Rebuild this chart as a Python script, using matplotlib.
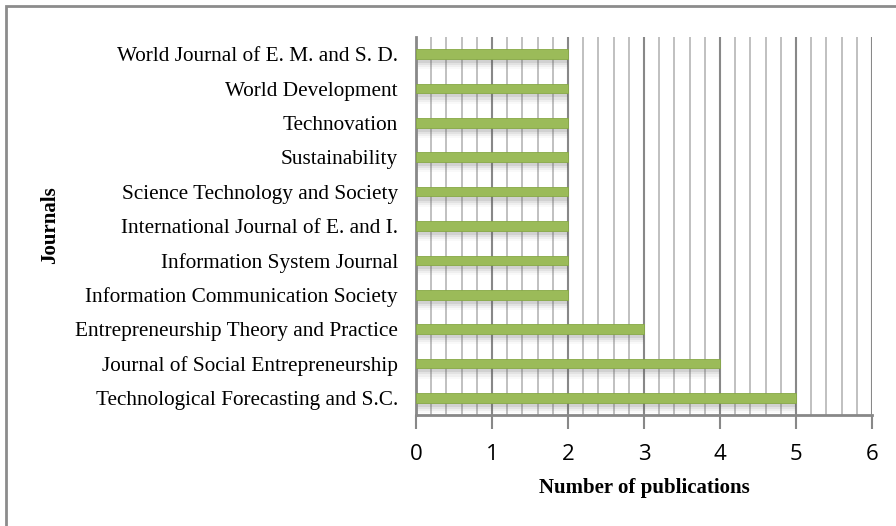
import matplotlib
matplotlib.use("Agg")
import matplotlib.pyplot as plt
import numpy as np
from matplotlib.patches import Rectangle

journals = [
    "Technological Forecasting and S.C.",
    "Journal of Social Entrepreneurship",
    "Entrepreneurship Theory and Practice",
    "Information Communication Society",
    "Information System Journal",
    "International Journal of E. and I.",
    "Science Technology and Society",
    "Sustainability",
    "Technovation",
    "World Development",
    "World Journal of E. M. and S. D.",
]
publications = [5, 4, 3, 2, 2, 2, 2, 2, 2, 2, 2]
x_ticks = [0, 1, 2, 3, 4, 5, 6]

W, H = 896, 526
fig = plt.figure(figsize=(W / 100, H / 100), dpi=100)
ax = fig.add_axes([416 / W, 1 - 415 / H, 456 / W, 378 / H])

# outer frame (only top and left edges fall inside the picture)
fig.patches.append(Rectangle((6 / W, -0.05), 1.0, 1 - 6 / H + 0.05,
                             transform=fig.transFigure, fill=False,
                             edgecolor="#8c8c8c", linewidth=2))

y = np.arange(len(journals))
h = 0.28

# soft shadow under each bar
for k, a in enumerate([0.12, 0.09, 0.06, 0.035]):
    ax.barh(y - 0.12 - 0.06 * k, publications, height=h, color="#606060",
            alpha=a, linewidth=0, zorder=2)
ax.barh(y, publications, height=h, color="#9bbb59", edgecolor="#86a845",
        linewidth=0.6, zorder=3)

ax.set_xlim(0, 6)
ax.set_ylim(-0.5, len(journals) - 0.5)
ax.set_xticks(x_ticks)
ax.set_xticks(np.arange(0, 6.01, 0.2), minor=True)
ax.grid(axis="x", which="minor", color="#c0c0c0", linewidth=1.4, zorder=1)
ax.grid(axis="x", which="major", color="#888888", linewidth=1.5, zorder=1)
ax.tick_params(axis="x", which="minor", length=0)
ax.tick_params(axis="x", which="major", length=10, width=1.5, color="#888888",
               direction="out", labelsize=16, pad=11)
for lbl in ax.get_xticklabels():
    lbl.set_family(["Open Sans", "DejaVu Sans"])

ax.set_yticks(y)
ax.set_yticklabels(journals, family="Liberation Serif", fontsize=15.3)
ax.tick_params(axis="y", length=0, pad=13)

for side in ["top", "right"]:
    ax.spines[side].set_visible(False)
ax.spines["left"].set_color("#888888")
ax.spines["left"].set_linewidth(2)
ax.spines["bottom"].set_color("#888888")
ax.spines["bottom"].set_linewidth(2)

fig.text(644 / W, 1 - 488 / H, "Number of publications",
         family="Liberation Serif", fontweight="bold", fontsize=15,
         ha="center", va="center")
fig.text(50 / W, 1 - 225 / H, "Journals", family="Liberation Serif",
         fontweight="bold", fontsize=15, rotation=90, ha="center", va="center")

fig.savefig("out.png", dpi=100)
